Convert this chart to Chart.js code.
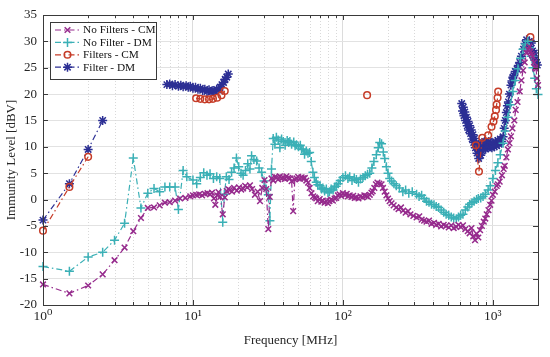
<!DOCTYPE html>
<html>
<head>
<meta charset="utf-8">
<script src="https://cdn.jsdelivr.net/npm/chart.js@4.4.0/dist/chart.umd.min.js"></script>
<style>
  html, body { margin: 0; padding: 0; background: #fff; }
  #wrap { width: 550px; height: 357px; position: relative; }
</style>
</head>
<body>
<div id="wrap"><canvas id="chart"></canvas></div>
<script>
// axis ticks
const xTickValues = [1, 10, 100, 1000];
const xTickLabels = ["10\u2070", "10\u00b9", "10\u00b2", "10\u00b3"];
const xGridValues = [1, 2, 3, 4, 5, 6, 7, 8, 9, 10, 20, 30, 40, 50, 60, 70, 80, 90,
  100, 200, 300, 400, 500, 600, 700, 800, 900, 1000, 2000];

// No Filters - CM
const noFiltersCmFreq = [1, 1.5, 2, 2.5, 3, 3.5, 4, 4.5, 5, 5.5, 6, 6.5, 7, 7.6, 8.2, 8.9, 9.6,
  10, 10.5, 11, 11.5, 12, 12.5, 13, 13.4, 13.8, 14.1, 14.5, 14.8, 15.2, 15.8, 16.3, 16.8, 17.2,
  17.6, 18.2, 18.8, 19.6, 20.3, 21, 21.6, 22.3, 23, 24, 24.8, 25.9, 27, 28, 29, 30, 30.8, 31.8,
  32.5, 33.4, 34.3, 35.2, 36.1, 37, 38, 39, 40, 41, 42, 43.2, 44.3, 45.5, 46.6, 47.8, 49, 50.3,
  51.6, 53, 54.3, 55.7, 57, 58.6, 60, 61.7, 63.3, 65, 66.4, 68, 70, 71.8, 73.5, 75.5, 77.5,
  79.4, 81.3, 83.5, 85.7, 88, 90.2, 92.5, 95, 97.5, 100, 103, 106, 108, 111, 114, 117, 120,
  123, 127, 131, 135, 139, 143, 147, 151, 155, 158, 162, 166, 170, 175, 181, 185, 190, 195,
  200, 205, 211, 218, 227, 235, 244, 252, 262, 272, 282, 295, 310, 323, 335, 348, 361, 375,
  390, 405, 419, 435, 452, 470, 488, 508, 528, 548, 570, 590, 610, 632, 655, 680, 700, 720,
  740, 760, 780, 800, 822, 845, 870, 890, 910, 935, 960, 980, 1000, 1030, 1060, 1080, 1110,
  1150, 1180, 1200, 1230, 1260, 1290, 1320, 1350, 1390, 1420, 1460, 1510, 1550, 1590, 1630,
  1680, 1720, 1750, 1780, 1810, 1840, 1880, 1910, 1940, 1970, 2000];
const noFiltersCmLevel = [-16.1, -17.8, -16.3, -14.2, -11.5, -9.1, -6.0, -3.5, -1.6, -1.5, -1.1,
  -0.6, -0.5, -0.2, 0.2, 0.3, 0.6,
  0.8, 0.9, 1.0, 0.8, 1.1, 1.2, 1.0, 1.3, 0.2, -1.0, 0.8, 1.4, 0.5, -2.8, 0.4, 1.6, 2.0,
  1.8, 1.5, 2.2, 1.7, 2.3, 1.9, 2.1, 2.6, 2.3, 2.7, 2.0, 0.9, 1.5, -0.3, 2.2, 3.7, 2.0, -5.6,
  0.5, 4.0, 3.6, 4.3, 4.2, 3.8, 4.4, 4.0, 4.2, 3.9, 4.4, 4.1, 4.0, 3.5, -2.2, 3.8, 4.0, 4.3,
  3.9, 4.2, 4.0, 4.1, 3.6, 3.2, 2.2, 1.2, 0.6, 0.4, 0.2, -0.3, 0.1, -0.4, -0.2, -0.6, -0.3,
  -0.7, -0.3, 0.0, -0.2, 0.2, 0.3, 0.8, 1.0, 0.7, 1.2, 0.9, 1.1, 0.6, 0.8, 0.5, 0.7, 0.3,
  0.4, 0.2, 0.6, 0.4, 0.8, 0.7, 0.5, 0.9, 1.3, 1.6, 2.2, 2.9, 3.2, 3.0, 2.9, 2.2, 1.5, 0.8,
  0.2, -0.3, -0.7, -1.1, -1.5, -1.8, -1.5, -2.1, -2.5, -2.2, -2.8, -3.1, -3.4, -3.2, -3.8, -4.0, -4.2, -4.0,
  -4.6, -4.4, -4.8, -4.6, -5.1, -4.8, -5.0, -5.3, -4.9, -5.4, -5.2, -4.8, -5.2, -4.9, -5.6, -6.0, -6.4, -5.4,
  -7.0, -7.7, -6.5, -7.2, -5.8, -5.0, -4.2, -3.6, -2.8, -2.0, -1.0, -0.2, 0.9, 1.5, 2.6, 2.9, 3.4,
  4.6, 5.8, 6.4, 8.0, 9.5, 10.7, 12.0, 13.5, 15.0, 17.0, 18.5, 20.5, 22.6, 24.5, 26.0,
  27.8, 28.5, 29.0, 28.0, 27.6, 27.2, 26.0, 25.0, 24.8, 23.0, 21.7];

// No Filter - DM
const noFilterDmFreq = [1, 1.5, 2, 2.5, 3, 3.5, 4, 4.5, 5, 5.5, 6, 6.5, 7, 7.6, 8, 8.6, 9.1,
  10, 10.6, 11.2, 11.8, 12.4, 13, 13.7, 14.4, 15.1, 15.8, 16.2, 16.7, 17.4, 18.1, 18.8, 19.5,
  20.2, 20.9, 21.6, 22.4, 23.2, 24, 24.6, 25.5, 26.6, 27.6, 28.7, 29.8, 30.8, 31.8, 32.6, 33.4,
  34.3, 35.2, 36, 37, 38, 39, 40, 41.2, 42.5, 43.5, 44.3, 45.5, 47, 48, 49, 50.5, 52, 53, 54.3,
  55.5, 57, 58.5, 60, 61.5, 63.1, 64.5, 66.4, 68, 70.3, 72, 73.5, 75.5, 77.5, 79.5, 81.3, 83.5,
  86, 88, 90.2, 93, 96, 100, 104, 108, 111, 115, 119, 123, 127, 131, 136, 141, 146, 151, 156,
  161, 167, 172, 176, 181, 186, 190, 195, 200, 205, 211, 219, 227, 238, 251, 262, 275, 290,
  310, 322, 335, 348, 361, 375, 390, 405, 419, 435, 452, 470, 488, 508, 528, 548, 570, 590,
  610, 632, 655, 680, 700, 725, 750, 779, 800, 830, 860, 890, 930, 960, 1000, 1040, 1080, 1120,
  1170, 1210, 1260, 1310, 1360, 1410, 1470, 1530, 1590, 1650, 1710, 1750, 1800, 1850, 1900,
  1950, 2000];
const noFilterDmLevel = [-12.7, -13.6, -10.9, -10.0, -7.7, -4.5, 7.9, -1.6, 1.2, 2.1, 1.5, 2.4,
  2.4, 2.4, -1.9, 5.5, 4.3,
  3.7, 3.0, 4.2, 5.1, 4.6, 4.9, 4.0, 4.3, 4.0, -4.3, 1.0, 4.3, 3.8, 5.2, 6.0, 7.9,
  6.2, 5.0, 4.6, 5.5, 6.8, 5.8, 8.3, 7.6, 7.3, 6.0, 5.2, 3.5, 2.0, 0.9, -4.0, 5.8,
  11.6, 10.5, 11.8, 11.3, 9.8, 11.5, 11.0, 10.3, 11.2, 10.8, 11.0, 10.5, 10.9, 10.2, 10.4, 10.0, 10.3, 9.6, 9.5,
  8.6, 9.2, 8.8, 8.9, 7.2, 5.2, 4.2, 3.3, 2.8, 2.6, 2.0, 2.2, 1.6, 2.0, 1.3, 1.5, 2.0,
  1.8, 2.4, 2.5, 3.0, 3.6, 4.2, 4.5, 4.0, 4.3, 3.6, 4.1, 3.8, 3.3, 3.9, 4.2, 4.5, 4.8, 5.0, 6.0,
  7.2, 8.5, 9.8, 10.8, 10.6, 9.0, 7.8, 6.2, 5.0, 4.0, 3.5, 3.0, 2.6, 2.2, 1.5, 1.8, 1.2, 1.5,
  1.0, 0.6, 0.8, 0.2, -0.3, -0.5, -0.9, -1.0, -1.3, -1.5, -2.0, -2.4, -2.8, -3.0, -3.3, -3.5, -3.7, -3.3,
  -3.0, -2.8, -2.0, -1.4, -0.9, -0.6, -0.3, 0.0, 0.2, 0.3, 0.6, 1.0, 1.8, 2.6, 4.0, 5.5, 7.0, 8.5,
  10.7, 13.0, 15.6, 18.0, 20.5, 22.6, 24.8, 26.8, 28.5, 29.5, 30.0, 28.8, 27.2, 25.0, 23.0,
  21.0, 19.9];

// Filters - CM (null = gap between measurement runs)
const filtersCmFreq = [1, 1.5, 2, 4, 10.5, 11.2, 12, 12.8, 13.6, 14.5, 15.5, 16.3, 60, 145, 400,
  770, 808, 850, 930, 980, 1010, 1030, 1050, 1060, 1075, 1085, 1400, 1780];
const filtersCmLevel = [-5.9, 2.4, 8.1, null, 19.2, 19.1, 19.0, 19.0, 19.1, 19.3, 19.8, 20.6,
  null, 19.8, null, 10.3, 5.3, 11.7, 12.2, 13.8, 14.8, 15.8, 17.0, 18.0, 19.3, 20.5, null, 30.8];

// Filter - DM
const filterDmFreq = [1, 1.5, 2, 2.5, 4, 6.7, 7, 7.3, 7.6, 8, 8.3, 8.6, 9, 9.3, 9.6, 10, 10.4,
  10.8, 11.2, 11.6, 12, 12.4, 12.8, 13.2, 13.6, 14, 14.4, 14.8, 15.2, 15.6, 16, 16.4, 16.8,
  17.2, 100, 620, 628, 635, 642, 650, 658, 666, 675, 683, 690, 700, 710, 718, 728, 737, 745,
  755, 765, 774, 784, 796, 805, 813, 822, 830, 840, 850, 860, 870, 880, 895, 910, 925, 940,
  955, 970, 985, 1000, 1020, 1040, 1060, 1080, 1100, 1120, 1140, 1170, 1190, 1210, 1230, 1250,
  1270, 1290, 1320, 1340, 1360, 1380, 1410, 1450, 1480, 1512, 1550, 1600, 1640, 1679, 1710,
  1750, 1780, 1805, 1840, 1870, 1890, 1920, 1950, 1980];
const filterDmLevel = [-3.9, 3.0, 9.5, 15.0, null, 21.8, 21.9, 21.6, 21.8, 21.5, 21.7, 21.4,
  21.6, 21.3, 21.5, 21.1, 21.3, 20.9, 21.1, 20.7, 20.9, 20.5, 20.8, 20.4, 20.7, 20.5, 20.9,
  20.7, 21.3, 21.8, 22.2, 22.8, 23.2, 23.8, null, 18.2, 16.8, 17.5, 15.9, 16.6, 15.0, 15.6,
  14.0, 14.8, 13.2, 14.0, 12.5, 13.2, 11.5, 12.3, 10.8, 11.6, 9.8, 10.7, 8.8, 9.6, 7.8, 8.6,
  9.8, 8.4, 10.5, 9.2, 10.8, 9.8, 11.0, 9.6, 10.6, 9.8, 11.0, 10.0, 10.8, 9.8, 10.6, 10.0,
  11.0, 10.2, 11.2, 10.5, 11.5, 11.0, 11.9, 13.5, 15.0, 16.5, 17.8, 18.5, 20.0, 21.7, 22.5,
  23.2, 23.5, 24.3, 24.8, 25.4, 26.0, 27.2, 28.5, 29.6, 30.3, 29.0, 30.0, 28.5, 29.7, 28.2,
  27.0, 27.8, 26.5, 26.0, 25.5];

function toPoints(freq, level) {
  return freq.map(function (f, i) {
    return { x: f, y: level[i] };
  });
}

const serif = "'Liberation Serif', 'DejaVu Serif', serif";

const frameAndGrid = {
  id: "frameAndGrid",
  beforeDatasetsDraw: function (chart) {
    const ctx = chart.ctx;
    const area = chart.chartArea;
    const xScale = chart.scales.x;
    ctx.save();
    ctx.strokeStyle = "#d9d9d9";
    ctx.lineWidth = 1;
    ctx.setLineDash([1, 2]);
    xGridValues.forEach(function (v) {
      if (xTickValues.indexOf(v) >= 0) {
        return;
      }
      const px = Math.round(xScale.getPixelForValue(v)) + 0.5;
      ctx.beginPath();
      ctx.moveTo(px, area.top);
      ctx.lineTo(px, area.bottom);
      ctx.stroke();
    });
    ctx.restore();
  },
  afterDraw: function (chart) {
    const ctx = chart.ctx;
    const area = chart.chartArea;
    const xScale = chart.scales.x;
    const yScale = chart.scales.y;
    ctx.save();
    ctx.strokeStyle = "#3a3a3a";
    ctx.lineWidth = 1;
    ctx.setLineDash([]);
    ctx.strokeRect(Math.round(area.left) + 0.5, Math.round(area.top) + 0.5,
      Math.round(area.right - area.left), Math.round(area.bottom - area.top));
    ctx.beginPath();
    xGridValues.forEach(function (v) {
      const px = Math.round(xScale.getPixelForValue(v)) + 0.5;
      const len = xTickValues.indexOf(v) >= 0 ? 5 : 3;
      ctx.moveTo(px, area.bottom);
      ctx.lineTo(px, area.bottom - len);
      ctx.moveTo(px, area.top);
      ctx.lineTo(px, area.top + len);
    });
    yScale.ticks.forEach(function (t) {
      const py = Math.round(yScale.getPixelForValue(t.value)) + 0.5;
      ctx.moveTo(area.left, py);
      ctx.lineTo(area.left + 5, py);
      ctx.moveTo(area.right, py);
      ctx.lineTo(area.right - 5, py);
    });
    ctx.stroke();

    // legend box inside the plot, top left
    const bx = 50, by = 22, bw = 106, bh = 57;
    ctx.fillStyle = "#fff";
    ctx.fillRect(bx, by, bw, bh);
    ctx.strokeStyle = "#3a3a3a";
    ctx.strokeRect(bx + 0.5, by + 0.5, bw, bh);
    chart.data.datasets.forEach(function (ds, i) {
      const rowY = by + 8 + i * 12.4;
      ctx.strokeStyle = ds.borderColor;
      ctx.lineWidth = ds.borderWidth;
      ctx.setLineDash(ds.borderDash);
      ctx.beginPath();
      ctx.moveTo(bx + 5, rowY);
      ctx.lineTo(bx + 30, rowY);
      ctx.stroke();
      ctx.setLineDash([]);
      ctx.lineWidth = ds.pointBorderWidth;
      ctx.fillStyle = ds.pointBackgroundColor;
      Chart.helpers.drawPoint(ctx, {
        pointStyle: ds.pointStyle,
        radius: ds.pointRadius,
        borderWidth: ds.pointBorderWidth,
        rotation: 0
      }, bx + 17.5, rowY);
      ctx.fillStyle = "#111";
      ctx.font = "11.3px " + serif;
      ctx.textBaseline = "middle";
      ctx.fillText(ds.label, bx + 33, rowY + 0.5);
    });
    ctx.restore();
  }
};

function series(label, freq, level, color, style, radius) {
  return {
    label: label,
    data: toPoints(freq, level),
    borderColor: color,
    backgroundColor: color,
    borderWidth: 1.2,
    borderDash: [6, 3, 1.5, 3],
    pointStyle: style,
    pointRadius: radius,
    pointHoverRadius: radius,
    pointBorderColor: color,
    pointBackgroundColor: style === "circle" ? "rgba(0,0,0,0)" : color,
    pointBorderWidth: 1.5,
    spanGaps: false,
    tension: 0,
    clip: 8
  };
}

const ctx = document.getElementById("chart").getContext("2d");
new Chart(ctx, {
  type: "line",
  data: {
    datasets: [
      series("No Filters - CM", noFiltersCmFreq, noFiltersCmLevel, "#962b8d", "crossRot", 4),
      series("No Filter - DM", noFilterDmFreq, noFilterDmLevel, "#3bb0b6", "cross", 4.5),
      series("Filters - CM", filtersCmFreq, filtersCmLevel, "#c63c28", "circle", 3.3),
      series("Filter - DM", filterDmFreq, filterDmLevel, "#2c2f94", "star", 4.5)
    ]
  },
  options: {
    responsive: true,
    maintainAspectRatio: false,
    animation: false,
    events: [],
    layout: { padding: { left: 0, right: 12, top: 15, bottom: 0 } },
    plugins: {
      legend: { display: false },
      tooltip: { enabled: false }
    },
    scales: {
      x: {
        type: "logarithmic",
        min: 1,
        max: 2000,
        afterBuildTicks: function (scale) {
          scale.ticks = xGridValues.map(function (v) {
            return { value: v };
          });
        },
        afterFit: function (scale) {
          scale.height = 52;
        },
        ticks: {
          autoSkip: false,
          maxRotation: 0,
          padding: 3,
          color: "#262626",
          font: { family: serif, size: 13.5 },
          callback: function (value) {
            const i = xTickValues.indexOf(value);
            return i >= 0 ? xTickLabels[i] : "";
          }
        },
        grid: {
          drawTicks: false,
          color: function (c) {
            return c.tick && xTickValues.indexOf(c.tick.value) >= 0 ? "#dcdcdc" : "rgba(0,0,0,0)";
          }
        },
        border: { color: "#3a3a3a" },
        title: {
          display: true,
          text: "Frequency [MHz]",
          color: "#262626",
          font: { family: serif, size: 13 },
          padding: { top: 0, bottom: 9 }
        }
      },
      y: {
        min: -20,
        max: 35,
        afterFit: function (scale) {
          scale.width = 43;
        },
        ticks: {
          stepSize: 5,
          padding: 6,
          color: "#262626",
          font: { family: serif, size: 13 }
        },
        grid: { drawTicks: false, color: "#e2e2e2" },
        border: { color: "#3a3a3a" },
        title: {
          display: true,
          text: "Immunity Level [dBV]",
          color: "#262626",
          font: { family: serif, size: 13 },
          padding: { top: 4, bottom: 0 }
        }
      }
    }
  },
  plugins: [frameAndGrid]
});
</script>
</body>
</html>
